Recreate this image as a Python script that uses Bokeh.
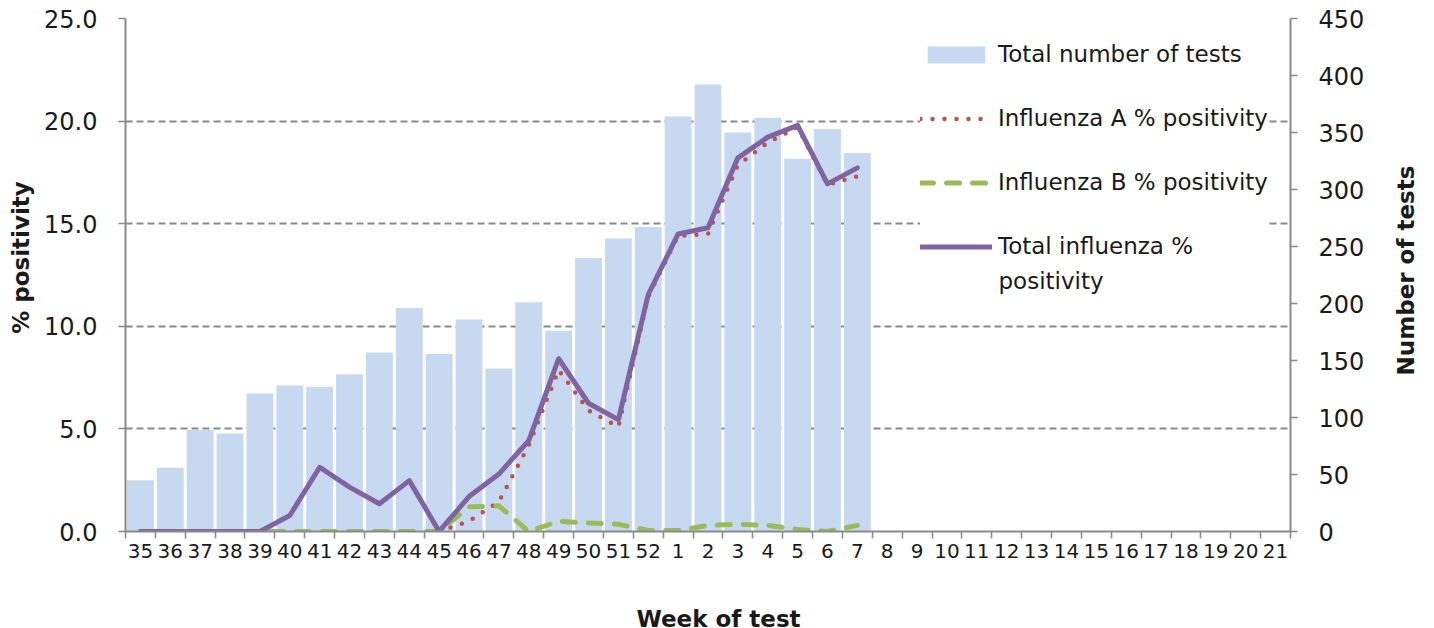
import math
from bokeh.plotting import figure
from bokeh.layouts import row, column
from bokeh.models import (Range1d, LinearAxis, FixedTicker, Legend, LegendItem,
                          ColumnDataSource, NumeralTickFormatter, Grid, Label)
from bokeh.embed import file_html
from bokeh.resources import INLINE

NA = float("nan")

weeks = ["35", "36", "37", "38", "39", "40", "41", "42", "43", "44", "45", "46", "47",
         "48", "49", "50", "51", "52", "1", "2", "3", "4", "5", "6", "7", "8", "9",
         "10", "11", "12", "13", "14", "15", "16", "17", "18", "19", "20", "21"]

total_tests = [45, 56, 89, 86, 121, 128, 127, 138, 157, 196, 156, 186, 143,
               201, 176, 240, 257, 267, 364, 392, 350, 363, 327, 353, 332, NA, NA,
               NA, NA, NA, NA, NA, NA, NA, NA, NA, NA, NA, NA]

flu_a_pct = [NA, NA, NA, NA, NA, NA, NA, NA, NA, NA, 0.0, 0.5, 1.45,
             4.2, 7.87, 5.9, 5.1, 11.45, 14.4, 14.5, 17.85, 18.95, 19.7, 16.9, 17.3, NA, NA,
             NA, NA, NA, NA, NA, NA, NA, NA, NA, NA, NA, NA]

flu_b_pct = [0.0, 0.0, 0.0, 0.0, 0.0, 0.0, 0.0, 0.0, 0.0, 0.0, 0.0, 1.2, 1.25,
             0.0, 0.5, 0.42, 0.35, 0.05, 0.05, 0.3, 0.35, 0.3, 0.1, 0.0, 0.3, NA, NA,
             NA, NA, NA, NA, NA, NA, NA, NA, NA, NA, NA, NA]

total_flu_pct = [0.0, 0.0, 0.0, 0.0, 0.0, 0.78, 3.13, 2.16, 1.35, 2.48, 0.0, 1.7, 2.8,
                 4.43, 8.42, 6.25, 5.45, 11.55, 14.5, 14.8, 18.21, 19.22, 19.79, 16.94, 17.72, NA, NA,
                 NA, NA, NA, NA, NA, NA, NA, NA, NA, NA, NA, NA]

left_ticks = [0, 5, 10, 15, 20, 25]
right_ticks = [0, 50, 100, 150, 200, 250, 300, 350, 400, 450]

n = len(weeks)
xpos = [i + 0.5 for i in range(n)]

src = ColumnDataSource(dict(x=xpos, tests=total_tests, a=flu_a_pct,
                            b=flu_b_pct, tot=total_flu_pct))

FONT = "DejaVu Sans"
GRAY = "#898989"
TXT = "#1a1a1a"

LEFT_W, RIGHT_W, MAIN_H, BOTTOM_H = 40, 50, 600, 28
MAIN_W = 1426 - LEFT_W - RIGHT_W
FRAME_BOTTOM = 531

p = figure(width=MAIN_W, height=MAIN_H, x_range=Range1d(0, n), y_range=Range1d(0, 25),
           output_backend="svg", toolbar_location=None,
           min_border_left=125 - LEFT_W, min_border_right=MAIN_W - (1290 - LEFT_W),
           min_border_top=18, min_border_bottom=MAIN_H - FRAME_BOTTOM,
           x_axis_type=None, y_axis_type=None)
p.outline_line_color = None
p.extra_y_ranges = {"tests": Range1d(0, 450)}

# axes
xaxis = LinearAxis(ticker=FixedTicker(ticks=xpos, minor_ticks=list(range(n + 1))),
                   major_label_overrides={x: w for x, w in zip(xpos, weeks)})
p.add_layout(xaxis, "below")

yaxis = LinearAxis(ticker=FixedTicker(ticks=left_ticks),
                   formatter=NumeralTickFormatter(format="0.0"))
p.add_layout(yaxis, "left")

raxis = LinearAxis(y_range_name="tests", ticker=FixedTicker(ticks=right_ticks))
p.add_layout(raxis, "right")

for ax in (xaxis, yaxis, raxis):
    ax.axis_line_color = GRAY
    ax.axis_line_width = 2
    ax.major_label_text_font = FONT
    ax.major_label_text_color = TXT

xaxis.major_label_text_font_size = "20px"
yaxis.major_label_text_font_size = "24px"
raxis.major_label_text_font_size = "24px"

xaxis.major_tick_line_color = None
xaxis.minor_tick_line_color = GRAY
xaxis.minor_tick_line_width = 1.5
xaxis.minor_tick_in = 0
xaxis.minor_tick_out = 7
xaxis.major_label_standoff = 5

for ax in (yaxis, raxis):
    ax.major_tick_line_color = GRAY
    ax.major_tick_line_width = 1.5
    ax.major_tick_in = 0
    ax.major_tick_out = 7
    ax.minor_tick_line_color = None

yaxis.major_label_standoff = 21
raxis.major_label_standoff = 21

# grid
p.add_layout(Grid(dimension=1, ticker=FixedTicker(ticks=left_ticks[1:]),
                  grid_line_color=GRAY, grid_line_width=1.8, grid_line_dash="7 4"))

# glyphs
bars = p.vbar(x="x", top="tests", width=0.9, source=src, y_range_name="tests",
              fill_color="#C6D9F1", line_color=None)
la = p.line("x", "a", source=src, line_color="#C0504D", line_width=4.5,
            line_dash="0 12", line_cap="round")
lb = p.line("x", "b", source=src, line_color="#9BBB59", line_width=5,
            line_dash="13 13", line_cap="round")
lt = p.line("x", "tot", source=src, line_color="#8064A2", line_width=5,
            line_join="round", line_cap="round")

legend = Legend(items=[
    LegendItem(label="Total number of tests", renderers=[bars]),
    LegendItem(label="Influenza A % positivity", renderers=[la]),
    LegendItem(label="Influenza B % positivity", renderers=[lb]),
    LegendItem(label="Total influenza %", renderers=[lt]),
], location=(795, 272))
legend.label_text_font = FONT
legend.label_text_font_size = "23px"
legend.label_text_color = TXT
legend.glyph_width = 72
legend.glyph_height = 21
legend.label_standoff = 6
legend.spacing = 38
legend.padding = 10
legend.margin = 0
legend.border_line_color = None
legend.background_fill_color = "white"
legend.background_fill_alpha = 1.0
p.add_layout(legend, "center")

p.add_layout(Label(x=873, y=251, x_units="screen", y_units="screen",
                   text="positivity", text_font=FONT, text_font_size="23px",
                   text_color=TXT, text_baseline="middle", text_align="left"))


# small panels holding the axis titles
def title_panel(w, h):
    f = figure(width=w, height=h, x_range=Range1d(0, 1), y_range=Range1d(0, 1),
               output_backend="svg", toolbar_location=None,
               x_axis_type=None, y_axis_type=None,
               min_border_left=0, min_border_right=0, min_border_top=0,
               min_border_bottom=0)
    f.outline_line_color = None
    f.grid.visible = False
    return f


title_style = dict(text_font=FONT, text_font_size="23px", text_font_style="bold",
                   text_color=TXT, x_units="screen", y_units="screen")

# side panels share the main frame's vertical extent (frames are aligned in a row)
pl = title_panel(LEFT_W, MAIN_H)
pl.add_layout(Label(x=20, y=FRAME_BOTTOM - 257, text="% positivity", angle=math.pi / 2,
                    text_align="center", text_baseline="middle", **title_style))

pr = title_panel(RIGHT_W, MAIN_H)
pr.add_layout(Label(x=1405 - (1426 - RIGHT_W), y=FRAME_BOTTOM - 270,
                    text="Number of tests", angle=math.pi / 2,
                    text_align="center", text_baseline="middle", **title_style))

pb = title_panel(1426, BOTTOM_H)
pb.add_layout(Label(x=718, y=10, text="Week of test", text_align="center",
                    text_baseline="alphabetic", **title_style))

layout = column(row(pl, p, pr, spacing=0), pb, spacing=0)

open("out.html", "w").write(file_html(layout, INLINE))
